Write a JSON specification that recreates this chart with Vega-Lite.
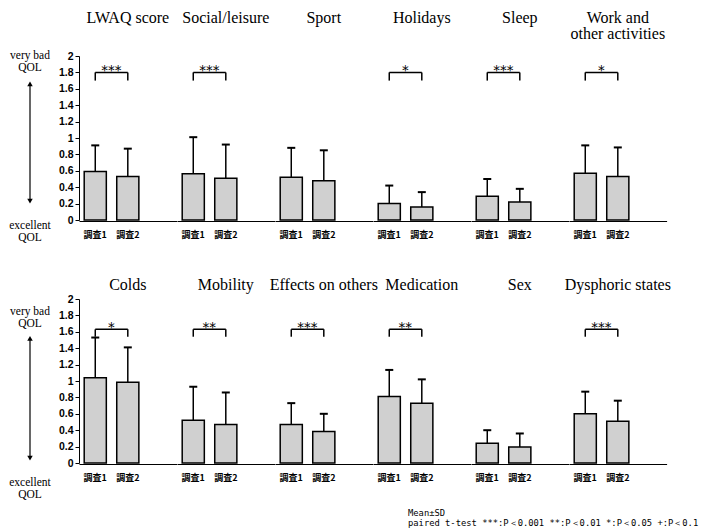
{
  "$schema": "https://vega.github.io/schema/vega-lite/v6.json",
  "background": "white",
  "padding": {"left": 9, "top": 10, "right": 0, "bottom": 0},
  "spacing": 33,
  "datasets": {
    "bars": [
      {"row": 1, "cat": "LWAQ score", "survey": "調査1", "mean": 0.59, "sd": 0.32, "sig": "***"},
      {"row": 1, "cat": "LWAQ score", "survey": "調査2", "mean": 0.53, "sd": 0.34, "sig": "***"},
      {"row": 1, "cat": "Social/leisure", "survey": "調査1", "mean": 0.565, "sd": 0.445, "sig": "***"},
      {"row": 1, "cat": "Social/leisure", "survey": "調査2", "mean": 0.51, "sd": 0.41, "sig": "***"},
      {"row": 1, "cat": "Sport", "survey": "調査1", "mean": 0.52, "sd": 0.36, "sig": ""},
      {"row": 1, "cat": "Sport", "survey": "調査2", "mean": 0.48, "sd": 0.37, "sig": ""},
      {"row": 1, "cat": "Holidays", "survey": "調査1", "mean": 0.2, "sd": 0.22, "sig": "*"},
      {"row": 1, "cat": "Holidays", "survey": "調査2", "mean": 0.16, "sd": 0.18, "sig": "*"},
      {"row": 1, "cat": "Sleep", "survey": "調査1", "mean": 0.29, "sd": 0.21, "sig": "***"},
      {"row": 1, "cat": "Sleep", "survey": "調査2", "mean": 0.22, "sd": 0.16, "sig": "***"},
      {"row": 1, "cat": "Work and other activities", "survey": "調査1", "mean": 0.57, "sd": 0.34, "sig": "*"},
      {"row": 1, "cat": "Work and other activities", "survey": "調査2", "mean": 0.53, "sd": 0.355, "sig": "*"},
      {"row": 2, "cat": "Colds", "survey": "調査1", "mean": 1.04, "sd": 0.49, "sig": "*"},
      {"row": 2, "cat": "Colds", "survey": "調査2", "mean": 0.985, "sd": 0.425, "sig": "*"},
      {"row": 2, "cat": "Mobility", "survey": "調査1", "mean": 0.52, "sd": 0.41, "sig": "**"},
      {"row": 2, "cat": "Mobility", "survey": "調査2", "mean": 0.47, "sd": 0.39, "sig": "**"},
      {"row": 2, "cat": "Effects on others", "survey": "調査1", "mean": 0.47, "sd": 0.26, "sig": "***"},
      {"row": 2, "cat": "Effects on others", "survey": "調査2", "mean": 0.385, "sd": 0.215, "sig": "***"},
      {"row": 2, "cat": "Medication", "survey": "調査1", "mean": 0.81, "sd": 0.325, "sig": "**"},
      {"row": 2, "cat": "Medication", "survey": "調査2", "mean": 0.73, "sd": 0.29, "sig": "**"},
      {"row": 2, "cat": "Sex", "survey": "調査1", "mean": 0.24, "sd": 0.16, "sig": ""},
      {"row": 2, "cat": "Sex", "survey": "調査2", "mean": 0.195, "sd": 0.165, "sig": ""},
      {"row": 2, "cat": "Dysphoric states", "survey": "調査1", "mean": 0.6, "sd": 0.27, "sig": "***"},
      {"row": 2, "cat": "Dysphoric states", "survey": "調査2", "mean": 0.51, "sd": 0.25, "sig": "***"}
    ]
  },
  "config": {
    "view": {"stroke": null},
    "font": "Liberation Serif",
    "concat": {"spacing": 7},
    "axis": {
      "grid": false,
      "domainColor": "black",
      "domainWidth": 1,
      "tickColor": "black",
      "labelColor": "black",
      "title": null
    },
    "header": {
      "labelFont": "Liberation Serif",
      "labelFontSize": 16,
      "labelColor": "black",
      "title": null
    }
  },
  "title": {
    "text": ["Mean±SD", "paired t-test  ***:P＜0.001  **:P＜0.01  *:P＜0.05  +:P＜0.1"],
    "orient": "bottom",
    "anchor": "start",
    "frame": "group",
    "align": "left",
    "dx": 398,
    "offset": 9,
    "font": "DejaVu Sans Mono",
    "fontSize": 8.8,
    "fontWeight": "normal",
    "lineHeight": 9.5,
    "color": "black"
  },
  "vconcat": [
    {
      "hconcat": [
        {
          "width": 40,
          "height": 164,
          "data": {"values": [{}]},
          "layer": [
            {
              "mark": {"type": "text", "font": "Liberation Serif", "fontSize": 11.5, "lineHeight": 12, "baseline": "middle", "align": "center"},
              "encoding": {
                "x": {"datum": 0.5, "type": "quantitative", "scale": {"domain": [0, 1]}, "axis": null},
                "y": {"datum": 2.0, "type": "quantitative", "scale": {"domain": [0, 2]}, "axis": null},
                "text": {"value": ["very bad", "QOL"]}
              }
            },
            {
              "mark": {"type": "text", "font": "Liberation Serif", "fontSize": 11.5, "lineHeight": 12, "baseline": "middle", "align": "center"},
              "encoding": {
                "x": {"datum": 0.5, "type": "quantitative"},
                "y": {"datum": -0.07, "type": "quantitative"},
                "text": {"value": ["excellent", "QOL"]}
              }
            },
            {
              "mark": {"type": "rule", "color": "black", "strokeWidth": 1.2},
              "encoding": {
                "x": {"datum": 0.5, "type": "quantitative"},
                "y": {"datum": 0.23, "type": "quantitative"},
                "y2": {"datum": 1.66}
              }
            },
            {
              "mark": {"type": "point", "shape": "triangle-up", "filled": true, "color": "black", "size": 30, "opacity": 1},
              "encoding": {
                "x": {"datum": 0.5, "type": "quantitative"},
                "y": {"datum": 1.66, "type": "quantitative"}
              }
            },
            {
              "mark": {"type": "point", "shape": "triangle-down", "filled": true, "color": "black", "size": 30, "opacity": 1},
              "encoding": {
                "x": {"datum": 0.5, "type": "quantitative"},
                "y": {"datum": 0.23, "type": "quantitative"}
              }
            }
          ]
        },
        {
          "data": {"name": "bars"},
          "transform": [{"filter": "datum.row == 1"}],
          "facet": {
            "column": {
              "field": "cat",
              "type": "nominal",
              "sort": ["LWAQ score", "Social/leisure", "Sport", "Holidays", "Sleep", "Work and other activities"],
              "header": {
                "labelExpr": "datum.value == 'Work and other activities' ? ['Work and', 'other activities'] : [datum.value, '']",
                "labelBaseline": "top",
                "labelLineHeight": 16,
                "labelPadding": 14
              }
            }
          },
          "spacing": {"column": 0},
          "spec": {
            "width": 97.6,
            "height": 164,
            "transform": [{"calculate": "datum.mean + datum.sd", "as": "hi"}],
            "encoding": {
              "x": {
                "field": "survey",
                "type": "nominal",
                "scale": {"domain": ["調査1", "調査2", " "], "paddingInner": 0.32, "paddingOuter": 0.16},
                "axis": {"labelAngle": 0, "ticks": false, "tickSize": 0, "labelPadding": 9, "labelFont": "Noto Sans CJK JP", "labelFontSize": 9, "labelFontWeight": "bold"}
              },
              "y": {
                "field": "mean",
                "type": "quantitative",
                "scale": {"domain": [0, 2], "nice": false},
                "axis": {"values": [0, 0.2, 0.4, 0.6, 0.8, 1, 1.2, 1.4, 1.6, 1.8, 2], "labelOverlap": false, "labelBound": false, "format": "~g", "tickSize": 4, "labelPadding": 2, "labelFont": "Liberation Sans", "labelFontSize": 10.5, "labelFontWeight": "bold"}
              }
            },
            "layer": [
              {
                "mark": {"type": "bar", "fill": "#d0d0d0", "stroke": "black", "strokeWidth": 1.5}
              },
              {
                "mark": {"type": "rule", "color": "black", "strokeWidth": 1.5},
                "encoding": {"y2": {"field": "hi"}}
              },
              {
                "mark": {"type": "tick", "color": "black", "size": 8, "thickness": 2, "opacity": 1},
                "encoding": {"y": {"field": "hi", "type": "quantitative"}}
              },
              {
                "transform": [{"filter": "datum.sig != '' && datum.survey == '調査1'"}],
                "mark": {"type": "rule", "color": "black", "strokeWidth": 1.5},
                "encoding": {"x": {"datum": "調査1"}, "x2": {"datum": "調査2"}, "y": {"datum": 1.8}}
              },
              {
                "transform": [{"filter": "datum.sig != ''"}],
                "mark": {"type": "rule", "color": "black", "strokeWidth": 1.5},
                "encoding": {"y": {"datum": 1.7}, "y2": {"datum": 1.8}}
              },
              {
                "transform": [{"filter": "datum.sig != '' && datum.survey == '調査1'"}],
                "mark": {"type": "text", "font": "DejaVu Sans", "fontSize": 13.5, "baseline": "bottom", "dx": 16, "dy": 6, "color": "black"},
                "encoding": {"y": {"datum": 1.8}, "text": {"field": "sig"}}
              }
            ]
          }
        }
      ]
    },
    {
      "hconcat": [
        {
          "width": 40,
          "height": 164,
          "data": {"values": [{}]},
          "layer": [
            {
              "mark": {"type": "text", "font": "Liberation Serif", "fontSize": 11.5, "lineHeight": 12, "baseline": "middle", "align": "center"},
              "encoding": {
                "x": {"datum": 0.5, "type": "quantitative", "scale": {"domain": [0, 1]}, "axis": null},
                "y": {"datum": 1.84, "type": "quantitative", "scale": {"domain": [0, 2]}, "axis": null},
                "text": {"value": ["very bad", "QOL"]}
              }
            },
            {
              "mark": {"type": "text", "font": "Liberation Serif", "fontSize": 11.5, "lineHeight": 12, "baseline": "middle", "align": "center"},
              "encoding": {
                "x": {"datum": 0.5, "type": "quantitative"},
                "y": {"datum": -0.24, "type": "quantitative"},
                "text": {"value": ["excellent", "QOL"]}
              }
            },
            {
              "mark": {"type": "rule", "color": "black", "strokeWidth": 1.2},
              "encoding": {
                "x": {"datum": 0.5, "type": "quantitative"},
                "y": {"datum": 0.06, "type": "quantitative"},
                "y2": {"datum": 1.52}
              }
            },
            {
              "mark": {"type": "point", "shape": "triangle-up", "filled": true, "color": "black", "size": 30, "opacity": 1},
              "encoding": {
                "x": {"datum": 0.5, "type": "quantitative"},
                "y": {"datum": 1.52, "type": "quantitative"}
              }
            },
            {
              "mark": {"type": "point", "shape": "triangle-down", "filled": true, "color": "black", "size": 30, "opacity": 1},
              "encoding": {
                "x": {"datum": 0.5, "type": "quantitative"},
                "y": {"datum": 0.06, "type": "quantitative"}
              }
            }
          ]
        },
        {
          "data": {"name": "bars"},
          "transform": [{"filter": "datum.row == 2"}],
          "facet": {
            "column": {
              "field": "cat",
              "type": "nominal",
              "sort": ["Colds", "Mobility", "Effects on others", "Medication", "Sex", "Dysphoric states"],
              "header": {
                "labelBaseline": "top",
                "labelPadding": 6
              }
            }
          },
          "spacing": {"column": 0},
          "spec": {
            "width": 97.6,
            "height": 164,
            "transform": [{"calculate": "datum.mean + datum.sd", "as": "hi"}],
            "encoding": {
              "x": {
                "field": "survey",
                "type": "nominal",
                "scale": {"domain": ["調査1", "調査2", " "], "paddingInner": 0.32, "paddingOuter": 0.16},
                "axis": {"labelAngle": 0, "ticks": false, "tickSize": 0, "labelPadding": 9, "labelFont": "Noto Sans CJK JP", "labelFontSize": 9, "labelFontWeight": "bold"}
              },
              "y": {
                "field": "mean",
                "type": "quantitative",
                "scale": {"domain": [0, 2], "nice": false},
                "axis": {"values": [0, 0.2, 0.4, 0.6, 0.8, 1, 1.2, 1.4, 1.6, 1.8, 2], "labelOverlap": false, "labelBound": false, "format": "~g", "tickSize": 4, "labelPadding": 2, "labelFont": "Liberation Sans", "labelFontSize": 10.5, "labelFontWeight": "bold"}
              }
            },
            "layer": [
              {
                "mark": {"type": "bar", "fill": "#d0d0d0", "stroke": "black", "strokeWidth": 1.5}
              },
              {
                "mark": {"type": "rule", "color": "black", "strokeWidth": 1.5},
                "encoding": {"y2": {"field": "hi"}}
              },
              {
                "mark": {"type": "tick", "color": "black", "size": 8, "thickness": 2, "opacity": 1},
                "encoding": {"y": {"field": "hi", "type": "quantitative"}}
              },
              {
                "transform": [{"filter": "datum.sig != '' && datum.survey == '調査1'"}],
                "mark": {"type": "rule", "color": "black", "strokeWidth": 1.5},
                "encoding": {"x": {"datum": "調査1"}, "x2": {"datum": "調査2"}, "y": {"datum": 1.63}}
              },
              {
                "transform": [{"filter": "datum.sig != ''"}],
                "mark": {"type": "rule", "color": "black", "strokeWidth": 1.5},
                "encoding": {"y": {"datum": 1.54}, "y2": {"datum": 1.63}}
              },
              {
                "transform": [{"filter": "datum.sig != '' && datum.survey == '調査1'"}],
                "mark": {"type": "text", "font": "DejaVu Sans", "fontSize": 13.5, "baseline": "bottom", "dx": 16, "dy": 6, "color": "black"},
                "encoding": {"y": {"datum": 1.63}, "text": {"field": "sig"}}
              }
            ]
          }
        }
      ]
    }
  ]
}
